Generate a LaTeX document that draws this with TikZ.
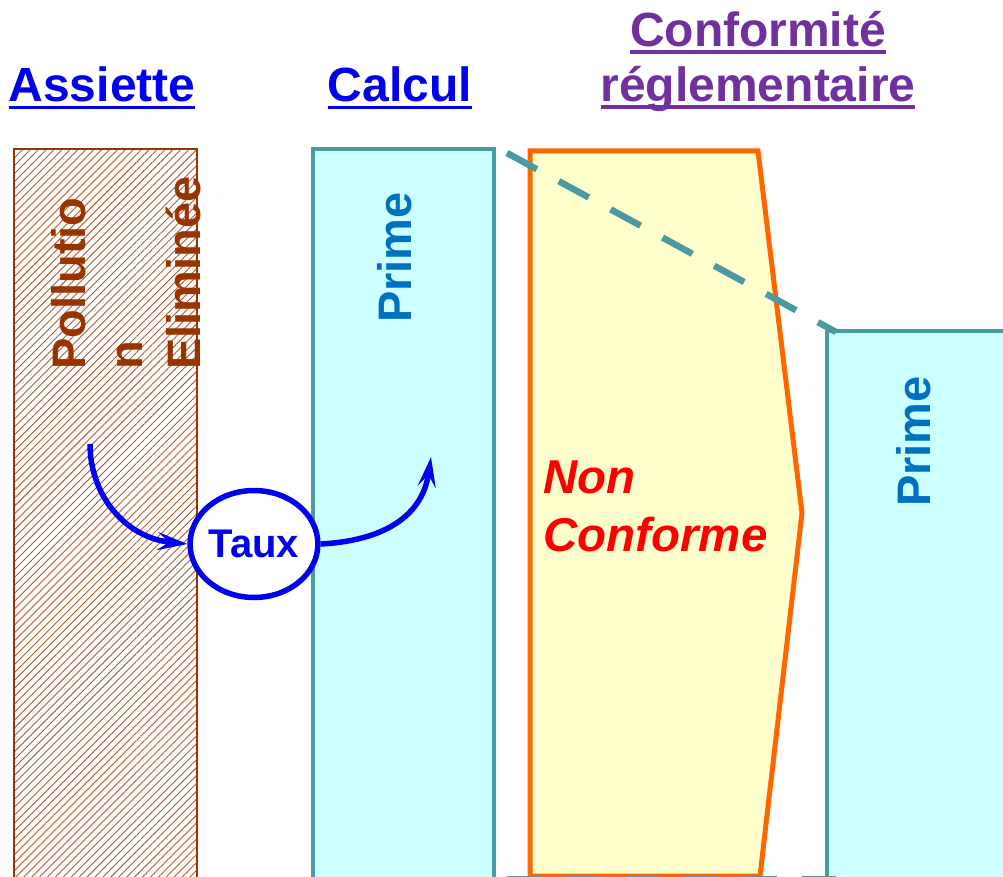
\documentclass[tikz,border=0pt]{standalone}
\usepackage{fontspec}
\setmainfont{Liberation Sans}
\usetikzlibrary{patterns.meta,arrows.meta,shapes.geometric}
\definecolor{brn}{HTML}{993300}
\definecolor{hatchc}{HTML}{AD5E30}
\definecolor{tealc}{HTML}{4A9AA2}
\definecolor{cyanf}{HTML}{CCFFFF}
\definecolor{yel}{HTML}{FFFFCC}
\definecolor{org}{HTML}{FF6600}
\definecolor{pur}{HTML}{7030A0}
\definecolor{blu}{HTML}{0000EE}
\definecolor{primec}{HTML}{0070C0}
\newcommand\hdrul[1]{\setbox0=\hbox{#1}\leavevmode\rlap{\vrule height -4pt depth 7.5pt width \wd0}\box0}
\begin{document}
\begin{tikzpicture}[x=1pt,y=-1pt,
  hdr/.style={inner sep=0pt,font=\fontsize{48}{55}\selectfont\bfseries},
  col/.style={fill=cyanf,draw=tealc,line width=4pt},
  rtext/.style={rotate=90,inner sep=0pt,font=\fontsize{47}{57.5}\selectfont\bfseries},
  tdash/.style={draw=tealc,line width=6.5pt,dash pattern=on 34pt off 25pt},
  flow/.style={draw=blu,line width=5.5pt,-{Stealth[length=30pt,width=18pt,inset=12pt]}}]
\useasboundingbox (0,0) rectangle (1003,877);
\clip (0,0) rectangle (1003,877);
\fill[white] (0,0) rectangle (1003,877);
% headers
\node[hdr,blu,anchor=base] (hA) at (102,102) {\hdrul{Assiette}};
\node[hdr,blu,anchor=base] (hC) at (400,102) {\hdrul{Calcul}};
\node[hdr,pur,anchor=north,align=center] (hR) at (758,11) {\hdrul{Conformité}\\\hdrul{réglementaire}};
% assiette column
\path[pattern={Lines[angle=45,distance=5.6pt,line width=0.9pt]},pattern color=hatchc,draw=brn,line width=2.5pt]
  (14,149) rectangle (197,905);
\node[rtext,brn,anchor=north west,align=left] (poll) at (51,370) {Pollutio\\n\\Eliminée};
% calcul column
\path[col] (313,149) rectangle (494,905);
\node[rtext,primec,anchor=base west] (p1) at (411,323) {Prime};
% right column
\path[col] (827,331) rectangle (1012,905);
\node[rtext,primec,anchor=base west] (p2) at (930,507) {Prime};
% non conforme polygon
\path[fill=yel,draw=org,line width=5pt,line join=miter]
  (530,151) -- (758,151) -- (802,513) -- (760,876) -- (530,876) -- cycle;
\node[inner sep=0pt,anchor=north west,align=left,red,font=\fontsize{47.5}{58}\selectfont\bfseries\itshape] (nc) at (543,461) {Non\\Conforme};
% dashed lines
\coordinate (d1) at (507,153);
\coordinate (d2) at (836,332);
\draw[tdash] (d1) -- (d2);
\coordinate (b1) at (507,879);
\coordinate (b2) at (836,879);
\draw[tdash] (b1) -- (b2);
% taux
\node[ellipse,draw=blu,line width=5.5pt,fill=white,minimum width=127pt,minimum height=107pt,inner sep=0pt,
  text=blu,font=\fontsize{40}{45}\selectfont\bfseries] (taux) at (254,544) {Taux};
\coordinate (s1) at (90,444);
\coordinate (e2) at (431,457);
\draw[flow] (s1) .. controls (90,495) and (125,538) .. (taux.west);
\draw[flow] (taux.east) .. controls (378,541) and (422,520) .. (e2);
\end{tikzpicture}
\end{document}
